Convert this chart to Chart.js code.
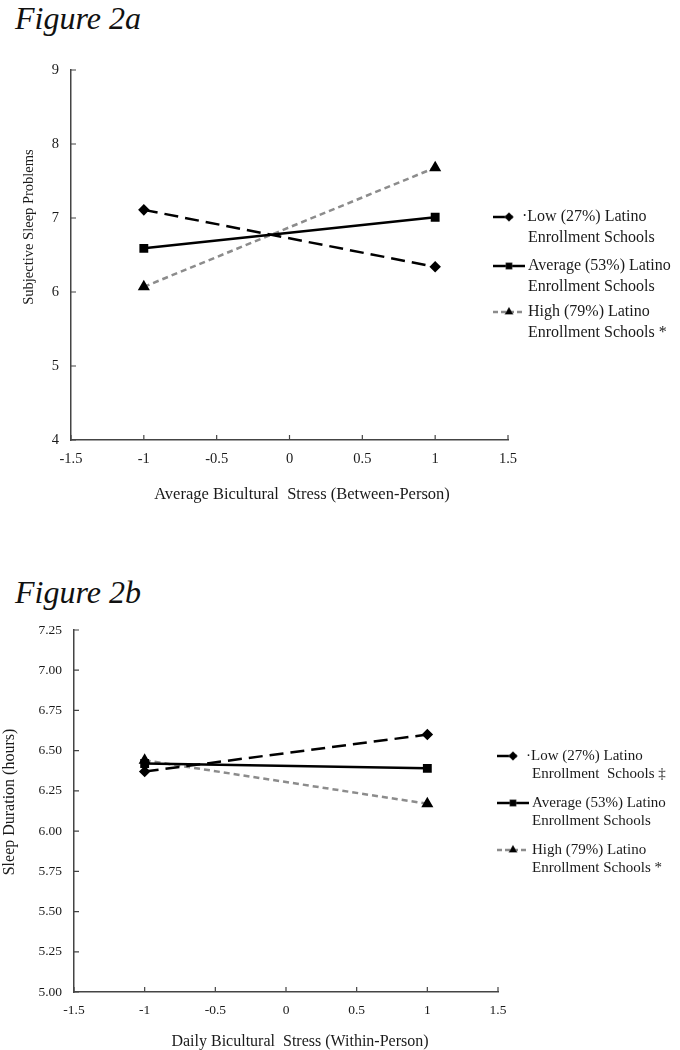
<!DOCTYPE html>
<html>
<head>
<meta charset="utf-8">
<script src="https://cdn.jsdelivr.net/npm/chart.js@4.4.0/dist/chart.umd.min.js"></script>
<style>
  body { margin: 0; background: #fff; width: 680px; height: 1050px; overflow: hidden; position: relative; }
  .fig { position: absolute; left: 15px; font-family: "Liberation Serif", serif; font-style: italic; font-size: 32px; color: #111; line-height: 1; }
  .box { position: absolute; left: 0; width: 680px; }
</style>
</head>
<body>
<div class="fig" style="top:2px">Figure 2a</div>
<div class="box" style="top:40px;height:480px"><canvas id="chartA"></canvas></div>
<div class="fig" style="top:576px">Figure 2b</div>
<div class="box" style="top:560px;height:490px"><canvas id="chartB"></canvas></div>

<script>
// data
let xPoints = [-1, 1];
let xTicks = [-1.5, -1, -0.5, 0, 0.5, 1, 1.5];

// figure 2a - subjective sleep problems
let lowA = [7.11, 6.34];
let avgA = [6.59, 7.01];
let highA = [6.07, 7.68];
let yTicksA = [4, 5, 6, 7, 8, 9];

// figure 2b - sleep duration
let lowB = [6.37, 6.60];
let avgB = [6.42, 6.39];
let highB = [6.44, 6.17];
let yTicksB = [5.00, 5.25, 5.50, 5.75, 6.00, 6.25, 6.50, 6.75, 7.00, 7.25];

let seriesNames = ['Low (27%) Latino', 'Average (53%) Latino', 'High (79%) Latino'];

const SERIF = '"Liberation Serif", "Times New Roman", serif';

function pts(vals) {
    return xPoints.map((x, i) => ({ x: x, y: vals[i] }));
}

function makeSets(low, avg, high) {
    return [{
        label: seriesNames[0],
        data: pts(low),
        borderColor: '#000', borderWidth: 2.5, borderDash: [14, 7],
        pointStyle: 'rectRot', pointRadius: 4, pointBackgroundColor: '#000', pointBorderColor: '#000'
    }, {
        label: seriesNames[1],
        data: pts(avg),
        borderColor: '#000', borderWidth: 2.5,
        pointStyle: 'rect', pointRadius: 4.5, pointBackgroundColor: '#000', pointBorderColor: '#000'
    }, {
        label: seriesNames[2],
        data: pts(high),
        borderColor: '#8c8c8c', borderWidth: 2.5, borderDash: [6, 4],
        pointStyle: 'triangle', pointRadius: 4.5, pointBackgroundColor: '#000', pointBorderColor: '#000'
    }];
}

// inner ticks, axis titles and the two-line legend
const decor = {
    id: 'decor',
    afterDraw(chart, args, o) {
        const ctx = chart.ctx;
        const xs = chart.scales.x, ys = chart.scales.y;
        const a = chart.chartArea;
        ctx.save();
        ctx.strokeStyle = '#444';
        ctx.lineWidth = 1.2;
        ctx.beginPath();
        xs.ticks.forEach(t => {
            let px = xs.getPixelForValue(t.value);
            ctx.moveTo(px, a.bottom);
            ctx.lineTo(px, a.bottom - 5);
        });
        ys.ticks.forEach(t => {
            let py = ys.getPixelForValue(t.value);
            ctx.moveTo(a.left, py);
            ctx.lineTo(a.left + 5, py);
        });
        ctx.stroke();

        ctx.fillStyle = '#1a1a1a';
        ctx.textAlign = 'center';
        ctx.textBaseline = 'middle';
        ctx.font = o.xTitleFont + 'px ' + SERIF;
        ctx.fillText(o.xTitle, o.xTitleX, o.xTitleY);
        ctx.font = o.yTitleFont + 'px ' + SERIF;
        ctx.save();
        ctx.translate(o.yTitleX, o.yTitleY);
        ctx.rotate(-Math.PI / 2);
        ctx.fillText(o.yTitle, 0, 0);
        ctx.restore();

        // legend
        ctx.font = o.legFont + 'px ' + SERIF;
        ctx.textAlign = 'left';
        chart.data.datasets.forEach((ds, i) => {
            let y = o.legY[i];
            ctx.save();
            ctx.strokeStyle = ds.borderColor;
            ctx.lineWidth = 2.5;
            ctx.setLineDash(i === 2 ? [5, 3] : []);
            ctx.beginPath();
            ctx.moveTo(o.legX, y);
            ctx.lineTo(o.legX + (i === 0 ? 20 : 32), y);
            ctx.stroke();
            ctx.restore();
            Chart.helpers.drawPoint(ctx, { pointStyle: ds.pointStyle, radius: 4, borderWidth: 1 }, o.legX + 16, y);
            ctx.fillStyle = '#000';
            ctx.fill();
            ctx.fillStyle = '#1a1a1a';
            let l1 = o.legText[i][0], l2 = o.legText[i][1];
            if (i === 0) {
                ctx.fillText('·' + l1, o.legX + 29, y);
            } else {
                ctx.fillText(l1, o.legX + 35, y);
            }
            ctx.fillText(l2, o.legX + 35, y + o.legGap);
        });
        ctx.restore();
    }
};

function makeChart(id, sets, yTicks, yMin, yMax, fmt, pad, yWidth, xHeight, tickFont, deco) {
    return new Chart(document.getElementById(id), {
        type: 'line',
        data: { datasets: sets },
        options: {
            responsive: true,
            maintainAspectRatio: false,
            animation: false,
            layout: { padding: pad },
            plugins: { legend: { display: false }, tooltip: { enabled: false }, decor: deco },
            scales: {
                x: {
                    type: 'linear', min: -1.5, max: 1.5,
                    afterBuildTicks: s => { s.ticks = xTicks.map(v => ({ value: v })); },
                    afterFit: s => { s.height = xHeight; },
                    grid: { drawOnChartArea: false, drawTicks: false },
                    border: { color: '#444', width: 1.5 },
                    ticks: { color: '#1a1a1a', padding: 10, font: { family: SERIF, size: tickFont }, callback: v => String(v) }
                },
                y: {
                    min: yMin, max: yMax,
                    afterBuildTicks: s => { s.ticks = yTicks.map(v => ({ value: v })); },
                    afterFit: s => { s.width = yWidth; },
                    grid: { drawOnChartArea: false, drawTicks: false },
                    border: { color: '#444', width: 1.5 },
                    ticks: { color: '#1a1a1a', padding: 12, font: { family: SERIF, size: tickFont }, callback: fmt }
                }
            }
        },
        plugins: [decor]
    });
}

makeChart('chartA', makeSets(lowA, avgA, highA), yTicksA, 4, 9, v => v,
    { top: 30, right: 172, left: 0, bottom: 0 }, 71, 80, 14.5, {
        xTitle: 'Average Bicultural  Stress (Between-Person)', xTitleX: 302, xTitleY: 455, xTitleFont: 16.5,
        yTitle: 'Subjective Sleep Problems', yTitleX: 29, yTitleY: 187, yTitleFont: 14.5,
        legX: 493, legY: [177, 226, 272], legGap: 21, legFont: 16,
        legText: [[seriesNames[0], 'Enrollment Schools'], [seriesNames[1], 'Enrollment Schools'], [seriesNames[2], 'Enrollment Schools *']]
    });

makeChart('chartB', makeSets(lowB, avgB, highB), yTicksB, 5, 7.25, v => v.toFixed(2), 
    { top: 70, right: 182, left: 0, bottom: 0 }, 74, 58, 13.5, {
        xTitle: 'Daily Bicultural  Stress (Within-Person)', xTitleX: 300, xTitleY: 482, xTitleFont: 16,
        yTitle: 'Sleep Duration (hours)', yTitleX: 10, yTitleY: 242, yTitleFont: 16,
        legX: 497, legY: [196, 243, 290], legGap: 18, legFont: 15,
        legText: [[seriesNames[0], 'Enrollment  Schools ‡'], [seriesNames[1], 'Enrollment Schools'], [seriesNames[2], 'Enrollment Schools *']]
    });
</script>
</body>
</html>
